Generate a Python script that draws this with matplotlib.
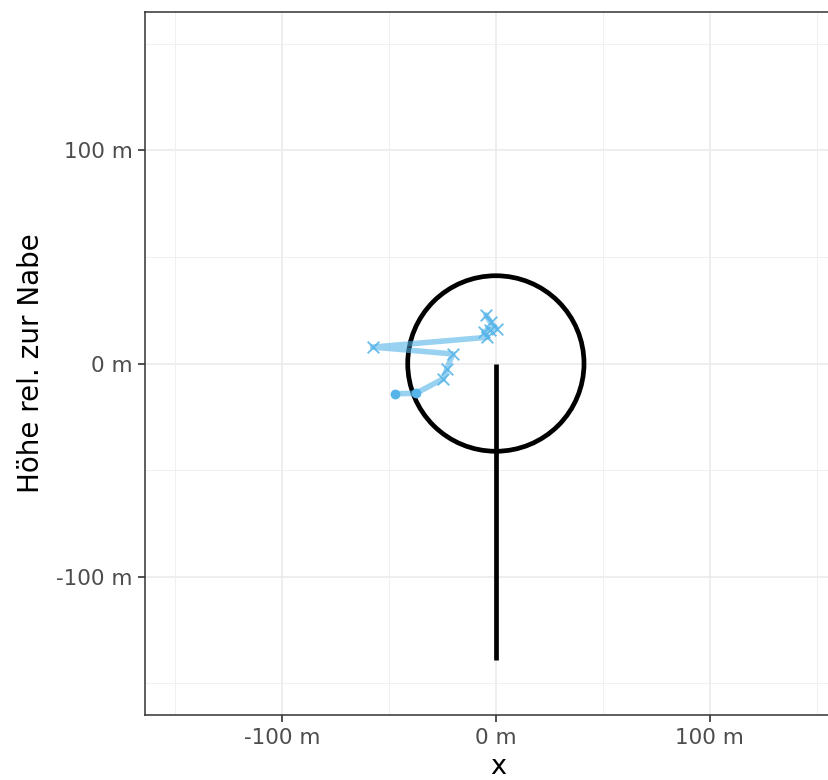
import numpy as np
import matplotlib
matplotlib.use("Agg")
import matplotlib.pyplot as plt
from matplotlib.patches import Circle

# Data (metres)
path_x = [-47.2, -37.4, -24.6, -23.0, -20.2, -57.6, -4.0, -5.6, -2.8, 0.3, -2.5, -4.7]
path_y = [-14.2, -14.0, -7.2, -2.8, 4.5, 7.7, 12.3, 15.0, 15.8, 16.3, 19.4, 22.8]
path_kind = ["dot", "dot", "x", "x", "x", "x", "x", "x", "x", "x", "x", "x"]
rotor_radius = 41.2
hub_height = 139.0
ticks = [-100, 0, 100]
tick_labels = ["-100 m", "0 m", "100 m"]
minor_ticks = [-150, -50, 50, 150]

W, H = 829, 780
fig = plt.figure(figsize=(W / 100, H / 100), dpi=100)
ax = fig.add_axes([145 / W, 1 - 715 / H, (851 - 145) / W, (715 - 12) / H])

ax.set_xlim(-164, 166)
ax.set_ylim(-165, 165)

# grid
for v in ticks:
    ax.axvline(v, color="#ebebeb", lw=1.2, zorder=0)
    ax.axhline(v, color="#ebebeb", lw=1.2, zorder=0)
for v in minor_ticks:
    ax.axvline(v, color="#f0f0f0", lw=0.7, zorder=0)
    ax.axhline(v, color="#f0f0f0", lw=0.7, zorder=0)

# rotor circle and tower
ax.add_patch(Circle((0, 0), rotor_radius, fill=False, edgecolor="black", lw=3.4, zorder=2))
ax.plot([0, 0], [0, -hub_height], color="black", lw=3.4, zorder=2, solid_capstyle="butt")

# path
blue = "#56B4E9"
ax.plot(path_x, path_y, color=blue, lw=4.0, alpha=0.6, zorder=3, solid_capstyle="round")
px = np.array(path_x); py = np.array(path_y); kinds = np.array(path_kind)
ax.scatter(px[kinds == "dot"], py[kinds == "dot"], s=50, color=blue, zorder=4, linewidths=0)
ax.scatter(px[kinds == "x"], py[kinds == "x"], s=70, marker="x", color=blue, zorder=4, linewidths=1.4, alpha=0.85)

ax.set_xticks(ticks)
ax.set_xticklabels(tick_labels)
ax.set_yticks(ticks)
ax.set_yticklabels(tick_labels)
ax.tick_params(axis="both", length=5, width=1.2, color="#333333", labelcolor="#4d4d4d",
               labelsize=15.5, pad=4)
for s in ax.spines.values():
    s.set_color("#333333")
    s.set_linewidth(1.1)

ax.set_xlabel("x", fontsize=19.5, color="black", labelpad=5)
ax.set_ylabel("Höhe rel. zur Nabe", fontsize=20, color="black", labelpad=8)

fig.savefig("out.png", dpi=100)
